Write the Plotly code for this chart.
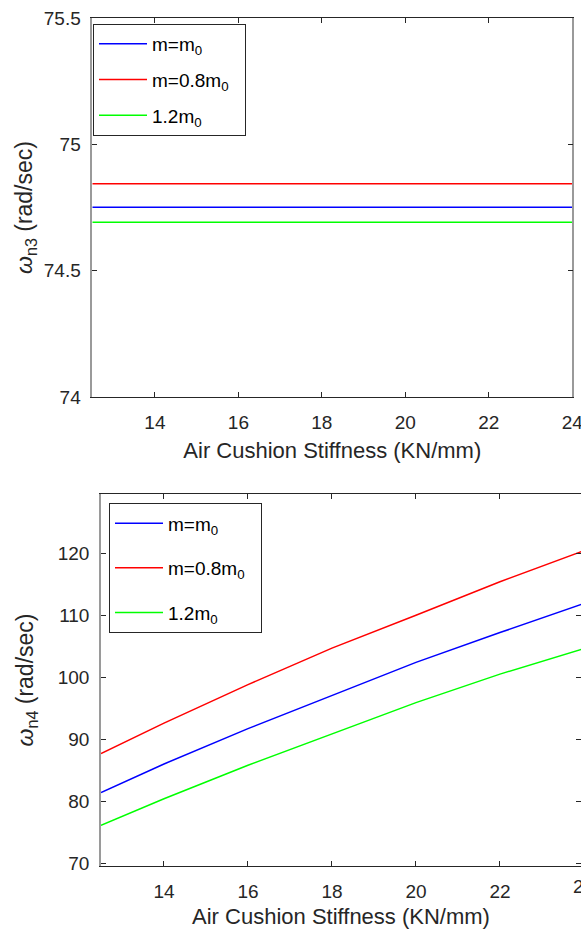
import plotly.graph_objects as go

# ---- data ----
stiffness = [12.5, 14, 16, 18, 20, 22, 24]

wn3_m0 = [74.751, 74.751, 74.751, 74.751, 74.751, 74.751, 74.751]
wn3_m08 = [74.844, 74.844, 74.844, 74.844, 74.844, 74.844, 74.844]
wn3_m12 = [74.692, 74.692, 74.692, 74.692, 74.692, 74.692, 74.692]

wn4_m0 = [81.4, 86.0, 91.7, 97.1, 102.4, 107.2, 111.9]
wn4_m08 = [87.7, 92.6, 98.8, 104.7, 110.0, 115.4, 120.4]
wn4_m12 = [76.1, 80.4, 85.8, 90.9, 95.9, 100.5, 104.6]

names = ["m=m<sub>0</sub>", "m=0.8m<sub>0</sub>", "1.2m<sub>0</sub>"]
colors = ["#0000FF", "#FF0000", "#00FF00"]

top_x_range = [12.5, 24]
top_y_range = [74, 75.5]
bot_x_range = [12.5, 23.93]
bot_y_range = [69.6, 129.5]
x_ticks = [14, 16, 18, 20, 22, 24]

W, H = 581, 929
FONT = "Liberation Sans, Arial, sans-serif"
DARK = "#262626"
GRAY = "#9a9a9a"
PAD = "&nbsp;&nbsp;"   # right padding inside the legend box

fig = go.Figure()

for i, (ys, nm, c) in enumerate(zip([wn3_m0, wn3_m08, wn3_m12], names, colors)):
    fig.add_trace(go.Scatter(x=stiffness, y=ys, mode="lines", name=nm + PAD,
                             line=dict(color=c, width=1.5),
                             xaxis="x", yaxis="y", legend="legend",
                             legendgroup="t%d" % i))
for i, (ys, nm, c) in enumerate(zip([wn4_m0, wn4_m08, wn4_m12], names, colors)):
    fig.add_trace(go.Scatter(x=stiffness, y=ys, mode="lines", name=nm + PAD,
                             line=dict(color=c, width=1.5),
                             xaxis="x2", yaxis="y2", legend="legend2",
                             legendgroup="b%d" % i))

top_xdom = [92.3 / W, 572.3 / W]
top_ydom = [1 - 397 / H, 1 - 18 / H]
bot_xdom = [101 / W, 1.0]
bot_ydom = [1 - 865.7 / H, 1 - 494.3 / H]

xcommon = dict(showgrid=False, zeroline=False, showline=True, linecolor=DARK,
               linewidth=1, mirror="ticks", ticks="inside", ticklen=5,
               tickcolor=DARK, tickfont=dict(size=19, color=DARK, family=FONT),
               tickvals=x_ticks, ticklabelstandoff=8, automargin=False,
               ticklabeloverflow="allow")
ycommon = dict(showgrid=False, zeroline=False, showline=True, linecolor=GRAY,
               linewidth=1.5, mirror="ticks", ticks="inside", ticklen=5,
               tickcolor=DARK, tickfont=dict(size=19, color=DARK, family=FONT),
               ticklabelstandoff=6, automargin=False, ticklabeloverflow="allow")
xtitle = dict(text="Air Cushion Stiffness (KN/mm)",
              font=dict(size=22, color=DARK, family=FONT), standoff=10)

fig.update_layout(
    width=W, height=H, autosize=False,
    margin=dict(l=0, r=0, t=0, b=0, autoexpand=False),
    paper_bgcolor="white", plot_bgcolor="white",
    font=dict(family=FONT, color=DARK),
    xaxis=dict(domain=top_xdom, range=top_x_range, anchor="y", title=xtitle, **xcommon),
    yaxis=dict(domain=top_ydom, range=top_y_range, anchor="x", dtick=0.5,
               title=dict(text="<i>ω</i><sub>n3</sub> (rad/sec)",
                          font=dict(size=23, color=DARK, family=FONT), standoff=5),
               **ycommon),
    xaxis2=dict(domain=bot_xdom, range=bot_x_range, anchor="y2", title=xtitle, **xcommon),
    yaxis2=dict(domain=bot_ydom, range=bot_y_range, anchor="x2",
                tickvals=[70, 80, 90, 100, 110, 120],
                title=dict(text="<i>ω</i><sub>n4</sub> (rad/sec)",
                           font=dict(size=23, color=DARK, family=FONT), standoff=18),
                **ycommon),
    legend=dict(x=93 / W, y=1 - 24 / H, xanchor="left", yanchor="top",
                bordercolor=DARK, borderwidth=1, bgcolor="white",
                font=dict(size=19, color="black", family=FONT),
                traceorder="grouped", tracegroupgap=8, itemwidth=48),
    legend2=dict(x=109 / W, y=1 - 503.3 / H, xanchor="left", yanchor="top",
                 bordercolor=DARK, borderwidth=1, bgcolor="white",
                 font=dict(size=19, color="black", family=FONT),
                 traceorder="grouped", tracegroupgap=17, itemwidth=48),
    showlegend=True,
)

# cut-off "24" tick label at the right edge of the lower plot
px_per_unit = (bot_xdom[1] - bot_xdom[0]) / (bot_x_range[1] - bot_x_range[0])
fig.add_annotation(text="24", xref="paper", yref="paper",
                   x=bot_xdom[0] + (x_ticks[-1] - bot_x_range[0]) * px_per_unit,
                   y=bot_ydom[0], xanchor="center", yanchor="top", yshift=-8,
                   showarrow=False, font=dict(size=19, color=DARK, family=FONT))

fig.write_html("out.html", config={"displayModeBar": False},
               post_script="document.body.style.margin='0px';"
                           "document.body.style.overflow='hidden';")
